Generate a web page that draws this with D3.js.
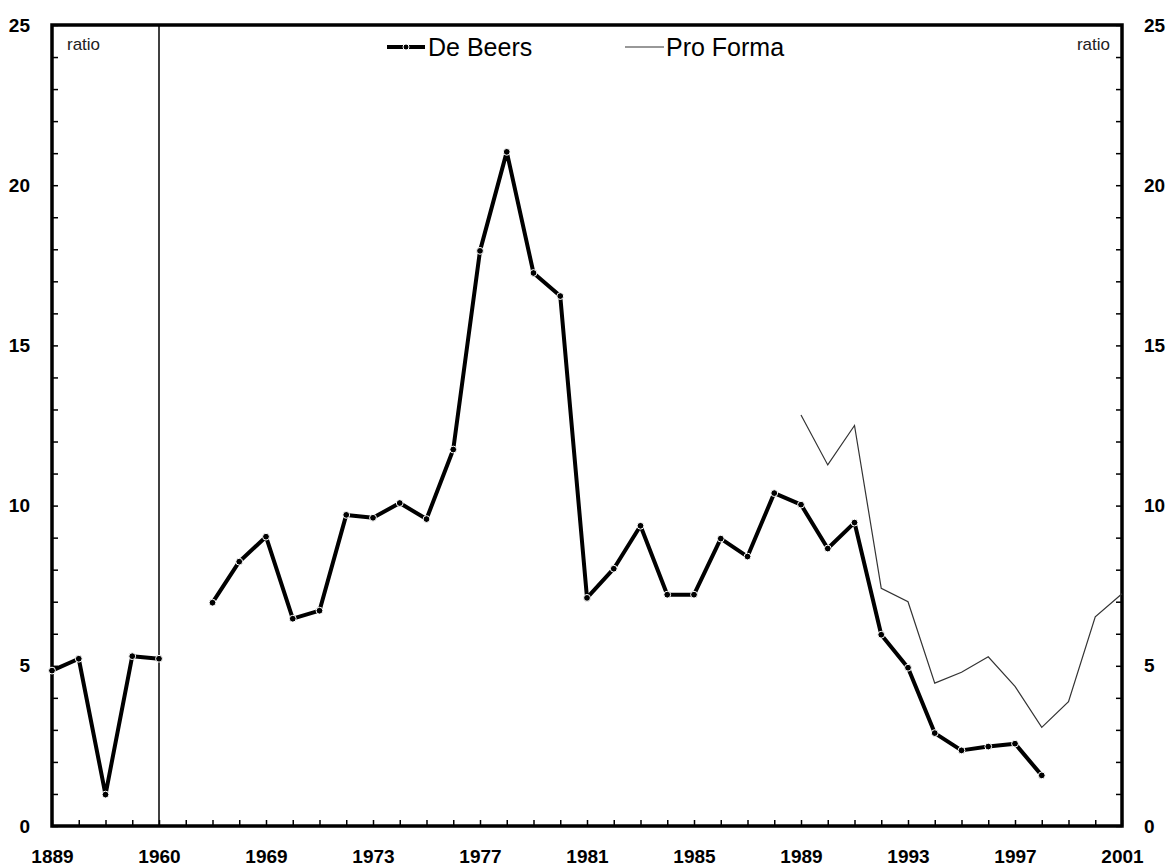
<!DOCTYPE html>
<html>
<head>
<meta charset="utf-8">
<script src="https://cdn.jsdelivr.net/npm/d3@7"></script>
<style>
  body { margin: 0; background: #fff; }
  text { font-family: "Liberation Sans", Arial, sans-serif; }
</style>
</head>
<body>
<div id="chart"></div>
<script>
var width = 1170,
    height = 867;

// categories on the x axis (first five are the early benchmark years, then 1966-2001)
const categories = ["1889", "e1", "e2", "e3", "1960",
    "1966", "1967", "1968", "1969", "1970", "1971", "1972", "1973", "1974", "1975",
    "1976", "1977", "1978", "1979", "1980", "1981", "1982", "1983", "1984", "1985",
    "1986", "1987", "1988", "1989", "1990", "1991", "1992", "1993", "1994", "1995",
    "1996", "1997", "1998", "1999", "2000", "2001"];

// labels printed under the axis
const tickLabels = ["1889", "1960", "1969", "1973", "1977", "1981", "1985", "1989", "1993", "1997", "2001"];

// De Beers ratio (null = no value)
const deBeers = [4.85, 5.22, 0.98, 5.30, 5.22,
    null, 6.97, 8.25, 9.03, 6.47, 6.72, 9.71, 9.62, 10.08, 9.58,
    11.75, 17.95, 21.04, 17.26, 16.54, 7.12, 8.03, 9.37, 7.22, 7.22,
    8.97, 8.41, 10.39, 10.03, 8.66, 9.47, 5.97, 4.94, 2.90, 2.36,
    2.48, 2.57, 1.58, null, null, null];

// Pro Forma ratio
const proForma = [null, null, null, null, null,
    null, null, null, null, null, null, null, null, null, null,
    null, null, null, null, null, null, null, null, null, null,
    null, null, null, 12.83, 11.27, 12.50, 7.42, 7.00, 4.46, 4.80,
    5.28, 4.36, 3.08, 3.88, 6.53, 7.25];

const yMajor = [0, 5, 10, 15, 20, 25];
const breakAt = "1960";

// plot box
var pLeft = 52, pRight = 1122, pTop = 25, pBottom = 826;

var svg = d3.select("#chart")
    .append("svg")
    .attr("width", width)
    .attr("height", height);

var x = d3.scalePoint()
    .domain(categories)
    .range([pLeft, pRight]);

var y = d3.scaleLinear()
    .domain([0, 25])
    .range([pBottom, pTop]);

// axes with inward ticks
function styleAxis(g) {
    g.select(".domain").remove();
    g.selectAll(".tick line").attr("stroke", "#000").attr("stroke-width", 1.5);
    g.selectAll(".tick text")
        .attr("font-size", "19px")
        .attr("font-weight", "bold")
        .attr("fill", "#000");
}

svg.append("g")
    .attr("transform", "translate(" + pLeft + ",0)")
    .call(d3.axisLeft(y)
        .tickValues(d3.range(0, 26))
        .tickSize(-6)
        .tickPadding(22)
        .tickFormat(d => yMajor.includes(d) ? d : ""))
    .call(styleAxis);

svg.append("g")
    .attr("transform", "translate(" + pRight + ",0)")
    .call(d3.axisRight(y)
        .tickValues(d3.range(0, 26))
        .tickSize(-6)
        .tickPadding(22)
        .tickFormat(d => yMajor.includes(d) ? d : ""))
    .call(styleAxis);

var labelByCat = {};
categories.forEach(function (c, i) {
    if (i % 4 == 0) labelByCat[c] = tickLabels[i / 4];
});

svg.append("g")
    .attr("transform", "translate(0," + pBottom + ")")
    .call(d3.axisBottom(x)
        .tickSize(-6)
        .tickPadding(24)
        .tickFormat(d => labelByCat[d] || ""))
    .call(styleAxis);

// frame
svg.append("rect")
    .attr("x", pLeft)
    .attr("y", pTop)
    .attr("width", pRight - pLeft)
    .attr("height", pBottom - pTop)
    .attr("fill", "none")
    .attr("stroke", "#000")
    .attr("stroke-width", 3.5);

// break line
svg.append("line")
    .attr("x1", x(breakAt)).attr("x2", x(breakAt))
    .attr("y1", pTop).attr("y2", pBottom)
    .attr("stroke", "#000")
    .attr("stroke-width", 1.5);

// "ratio" units
svg.append("text")
    .attr("x", 67).attr("y", 50)
    .attr("font-size", "17px")
    .attr("fill", "#222")
    .text("ratio");

svg.append("text")
    .attr("x", 1110).attr("y", 50)
    .attr("text-anchor", "end")
    .attr("font-size", "17px")
    .attr("fill", "#222")
    .text("ratio");

// lines
var line = d3.line()
    .defined(d => d.v != null)
    .x(d => x(d.c))
    .y(d => y(d.v));

var dbData = categories.map((c, i) => ({ c: c, v: deBeers[i] }));
var pfData = categories.map((c, i) => ({ c: c, v: proForma[i] }));

svg.append("path")
    .datum(pfData)
    .attr("fill", "none")
    .attr("stroke", "#333")
    .attr("stroke-width", 1.2)
    .attr("d", line);

svg.append("path")
    .datum(dbData)
    .attr("fill", "none")
    .attr("stroke", "#000")
    .attr("stroke-width", 4)
    .attr("stroke-linejoin", "round")
    .attr("d", line);

svg.selectAll(".dot")
    .data(dbData.filter(d => d.v != null))
    .join("circle")
    .attr("class", "dot")
    .attr("cx", d => x(d.c))
    .attr("cy", d => y(d.v))
    .attr("r", 3.4)
    .attr("fill", "#000")
    .attr("stroke", "#fff")
    .attr("stroke-width", 1);

// legend
var legend = svg.append("g");

legend.append("line")
    .attr("x1", 387).attr("x2", 425)
    .attr("y1", 47).attr("y2", 47)
    .attr("stroke", "#000").attr("stroke-width", 4);
legend.append("circle")
    .attr("cx", 406).attr("cy", 47).attr("r", 3)
    .attr("fill", "#000").attr("stroke", "#fff").attr("stroke-width", 1);
legend.append("text")
    .attr("x", 428).attr("y", 56)
    .attr("font-size", "25px")
    .attr("fill", "#000")
    .text("De Beers");

legend.append("line")
    .attr("x1", 625).attr("x2", 664)
    .attr("y1", 47).attr("y2", 47)
    .attr("stroke", "#333").attr("stroke-width", 1.2);
legend.append("text")
    .attr("x", 666).attr("y", 56)
    .attr("font-size", "25px")
    .attr("fill", "#000")
    .text("Pro Forma");
</script>
</body>
</html>
